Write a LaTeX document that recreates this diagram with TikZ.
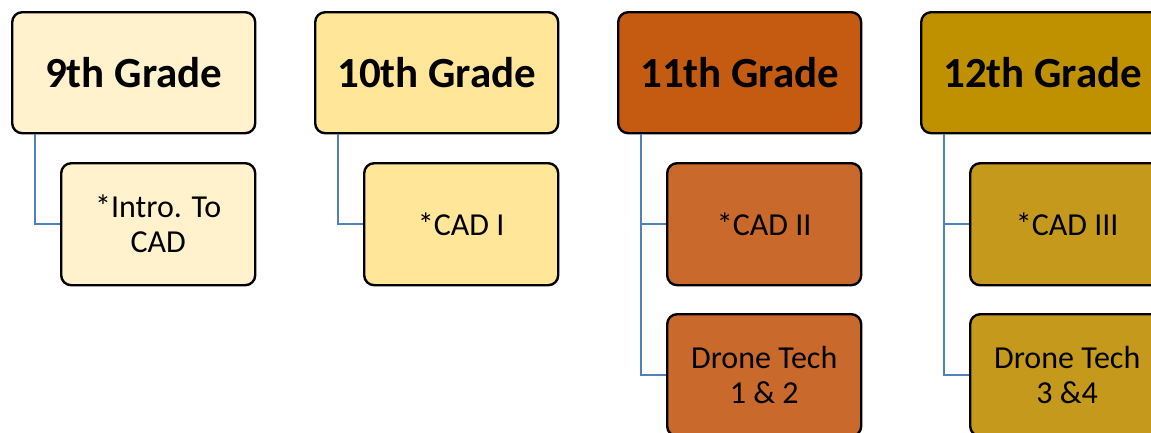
\documentclass[tikz,border=0pt]{standalone}
\usepackage{fontspec}
\setmainfont{Carlito}
\definecolor{c9}{HTML}{FFF2CC}
\definecolor{c10}{HTML}{FFE699}
\definecolor{c11t}{HTML}{C55A11}
\definecolor{c11c}{HTML}{C9692B}
\definecolor{c12t}{HTML}{BF9000}
\definecolor{c12c}{HTML}{C59A1C}
\definecolor{conn}{HTML}{4F81BD}
\tikzset{
  gradebox/.style={draw=black, line width=2.4pt, rounded corners=10pt, anchor=north west,
    minimum width=243pt, minimum height=121pt, inner sep=0pt,
    font=\fontsize{43}{47}\selectfont\bfseries, align=center},
  coursebox/.style={draw=black, line width=2.4pt, rounded corners=10pt, anchor=north west,
    minimum width=194pt, minimum height=122pt, inner sep=0pt,
    font=\fontsize{32}{35}\selectfont, align=center},
  link/.style={draw=conn, line width=2.2pt}
}
\begin{document}
\begin{tikzpicture}[x=1pt,y=-1pt]
\useasboundingbox (0,0) rectangle (1151,432);
\clip (0,0) rectangle (1151,432);
\node[gradebox, fill=c9] (t9) at (11,11) {9th Grade};
\node[gradebox, fill=c10] (t10) at (314,11) {10th Grade};
\node[gradebox, fill=c11t] (t11) at (617,11) {11th Grade};
\node[gradebox, fill=c12t] (t12) at (920,11) {12th Grade};
\node[coursebox, fill=c9] (a9) at (60,162) {*Intro. To\\CAD};
\node[coursebox, fill=c10] (a10) at (363,162) {*CAD I};
\node[coursebox, fill=c11c] (a11) at (666,162) {*CAD II};
\node[coursebox, fill=c11c] (b11) at (666,313) {Drone Tech\\1 \& 2};
\node[coursebox, fill=c12c] (a12) at (969,162) {*CAD III};
\node[coursebox, fill=c12c] (b12) at (969,313) {Drone Tech\\3 \&4};
\draw[link] ([xshift=24pt]t9.south west) |- (a9.west);
\draw[link] ([xshift=24pt]t10.south west) |- (a10.west);
\draw[link] ([xshift=24pt]t11.south west) |- (a11.west);
\draw[link] ([xshift=24pt]t11.south west) |- (b11.west);
\draw[link] ([xshift=24pt]t12.south west) |- (a12.west);
\draw[link] ([xshift=24pt]t12.south west) |- (b12.west);
\end{tikzpicture}
\end{document}
